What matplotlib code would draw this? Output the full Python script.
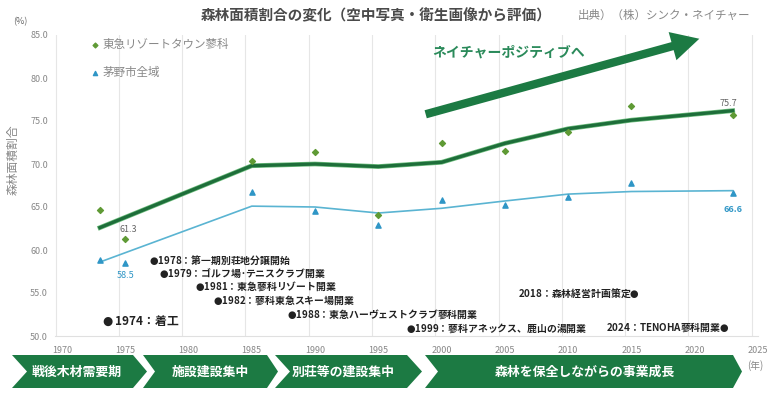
import numpy as np
import matplotlib
matplotlib.use("Agg")
import matplotlib.pyplot as plt
from matplotlib.patches import Polygon
import matplotlib.patheffects as pe

plt.rcParams['font.family'] = ['Noto Sans CJK JP', 'DejaVu Sans']
plt.rcParams['mathtext.fontset'] = 'dejavusans'

# 観測年
years = [1973, 1975, 1985, 1990, 1995, 2000, 2005, 2010, 2015, 2023]
# 東急リゾートタウン蓼科（実測点とトレンド）
tokyu_pts = [64.6, 61.3, 70.4, 71.4, 64.1, 72.5, 71.5, 73.7, 76.7, 75.7]
tokyu_trend = [62.6, 62.6, 69.8, 70.0, 69.7, 70.2, 72.4, 74.1, 75.1, 76.2]
# 茅野市全域
chino_pts = [58.8, 58.5, 66.7, 64.5, 62.9, 65.8, 65.2, 66.2, 67.8, 66.6]
chino_trend = [58.6, 58.6, 65.1, 65.0, 64.3, 64.85, 65.7, 66.5, 66.8, 66.9]
# トレンド線の年（1975は1973から直線）
trend_years = [1973, 1985, 1990, 1995, 2000, 2005, 2010, 2015, 2023]

xticks = list(range(1970, 2030, 5))
yticks = [50.0, 55.0, 60.0, 65.0, 70.0, 75.0, 80.0, 85.0]

DOT = "$\u25cf$"
# 出来事（テキスト, x, y, 揃え）
events = [
    (DOT + " 1974：着工", 1973.2, 51.75, 'left'),
    (DOT + "1978：第一期別荘地分譲開始", 1976.85, 58.8, 'left'),
    (DOT + "1979：ゴルフ場･テニスクラブ開業", 1977.64, 57.3, 'left'),
    (DOT + "1981：東急蓼科リゾート開業", 1980.55, 55.8, 'left'),
    (DOT + "1982：蓼科東急スキー場開業", 1981.97, 54.2, 'left'),
    (DOT + "1988：東急ハーヴェストクラブ蓼科開業", 1987.8, 52.55, 'left'),
    (DOT + "1999：蓼科アネックス、鹿山の湯開業", 1997.17, 50.93, 'left'),
    ("2018：森林経営計画策定" + DOT, 2015.67, 55.0, 'right'),
    ("2024：TENOHA蓼科開業" + DOT, 2022.76, 51.05, 'right'),
]

phases = ["戦後木材需要期", "施設建設集中", "別荘等の建設集中", "森林を保全しながらの事業成長"]

GREEN = '#1c7a43'
W, H = 780, 396
fig = plt.figure(figsize=(W / 100, H / 100), dpi=100)
ax = fig.add_axes([55 / W, (H - 336) / H, (758 - 55) / W, (336 - 35) / H])

tr_idx = [0] + list(range(2, len(years)))
ax.plot(trend_years, [tokyu_trend[i] for i in tr_idx], color='#1e6e3a', lw=2.4, zorder=3,
        path_effects=[pe.Stroke(linewidth=3.4, foreground='#6fbf7f'), pe.Normal()])
ax.plot(trend_years, [chino_trend[i] for i in tr_idx], color='#5ab4d2', lw=1.2, zorder=3)
ax.scatter(years, tokyu_pts, marker='D', s=9, color='#5f9a35', zorder=4,
           label='東急リゾートタウン蓼科')
ax.scatter(years, chino_pts, marker='^', s=14, color='#2f96c6', zorder=4, label='茅野市全域')

ax.annotate("61.3", (years[1], tokyu_pts[1]), xytext=(2, 7), textcoords='offset points',
            ha='center', va='center', fontsize=6.5, color='#666666')
ax.annotate("58.5", (years[1], chino_pts[1]), xytext=(0, -9), textcoords='offset points',
            ha='center', va='center', fontsize=6.5, color='#2f96c6')
ax.annotate("75.7", (years[-1], tokyu_pts[-1]), xytext=(-3, 8), textcoords='offset points',
            ha='center', va='center', fontsize=6.5, color='#666666')
ax.annotate("66.6", (years[-1], chino_pts[-1]), xytext=(0, -12), textcoords='offset points',
            ha='center', va='center', fontsize=6.5, color='#2f96c6', fontweight='bold')

for txt, x, y, ha in events:
    fs = 8.5 if '着工' in txt else 7.1
    ax.text(x, y, txt, ha=ha, va='center', fontsize=fs, fontweight='bold', color='#222222')

ax.set_xlim(1969.45, 2025.0)
ax.set_ylim(50, 85)
for t in xticks:
    ax.axvline(t - 0.5, color='#e6e6e6', lw=0.8, zorder=0)
ax.set_xticks(xticks)
ax.set_xticklabels([str(t) for t in xticks], fontsize=6.5, color='#888888')
ax.set_yticks(yticks)
ax.set_yticklabels([f"{v:.1f}" for v in yticks], fontsize=6.5, color='#888888')
ax.tick_params(length=0, pad=5)
ax.tick_params(axis='x', pad=7)
for s in ['top', 'right', 'left']:
    ax.spines[s].set_visible(False)
ax.spines['bottom'].set_color('#e0e0e0')

leg = ax.legend(loc='upper left', bbox_to_anchor=(0.035, 1.025), frameon=False, fontsize=8.3,
                labelcolor='#888888', handlelength=0.8, handletextpad=0.3, labelspacing=1.3,
                markerscale=0.8)

# タイトル等
fig.text(376 / W, 1 - 15 / H, "森林面積割合の変化（空中写真・衛生画像から評価）", ha='center',
         va='center', fontsize=10.5, fontweight='bold', color='#4a4a4a')
fig.text(750 / W, 1 - 15 / H, "出典）（株）シンク・ネイチャー", ha='right', va='center',
         fontsize=8.3, color='#888888')
fig.text(20 / W, 1 - 22 / H, "(%)", ha='center', va='center', fontsize=6.5, color='#666666')
fig.text(13 / W, 1 - 160 / H, "森林面積割合", ha='center', va='center', rotation=90,
         fontsize=8.5, color='#888888')
fig.text(755 / W, 1 - 366 / H, "(年)", ha='center', va='center', fontsize=7, color='#888888')

# ネイチャーポジティブ矢印
ax.annotate("", xy=(702, H - 38), xytext=(423, H - 115), xycoords='figure pixels',
            textcoords='figure pixels',
            arrowprops=dict(arrowstyle='simple,head_width=2.1,head_length=2.0,tail_width=0.6',
                            mutation_scale=10, color=GREEN, lw=0))
fig.text(509 / W, 1 - 53 / H, "ネイチャーポジティブへ", ha='center', va='center', fontsize=10,
         fontweight='bold', color='#2a8a5a')

# 時代区分の矢羽
top, bot = H - 355, H - 388
mid = (top + bot) / 2
chev = [(12, 133, 147, 27), (143, 267, 278, 155), (275, 407, 422, 290), (425, 733, 742, 438)]
centers = [77, 210, 343, 585]
for (x0, xs, xt, xn), cx, lab in zip(chev, centers, phases):
    pts = [(x0, top), (xs, top), (xt, mid), (xs, bot), (x0, bot), (xn, mid)]
    pts = [(px / W, py / H) for px, py in pts]
    fig.patches.append(Polygon(pts, closed=True, transform=fig.transFigure, facecolor=GREEN,
                               edgecolor='none'))
    fig.text(cx / W, mid / H, lab, ha='center', va='center', fontsize=9.3, fontweight='bold',
             color='white')

fig.savefig('out.png', dpi=100)
